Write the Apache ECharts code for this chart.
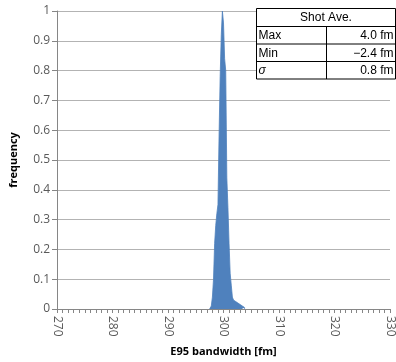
<!DOCTYPE html>
<html>
<head>
<meta charset="utf-8">
<script src="https://cdn.jsdelivr.net/npm/echarts@6/dist/echarts.min.js"></script>
<style>html,body{margin:0;padding:0;background:#fff}#c{width:396px;height:362px}</style>
</head>
<body>
<div id="c"></div>
<script>
// bin centres (fm) and normalised frequency
const binCenters = [297.5, 297.7, 297.9, 298.1, 298.3, 298.5, 298.7, 298.9, 299.1, 299.3, 299.5,
  299.7, 299.9, 300.1, 300.3, 300.5, 300.7, 300.9, 301.1, 301.3, 301.5,
  301.7, 301.9, 302.1, 302.3, 302.5, 302.7, 302.9, 303.1, 303.3, 303.5, 303.7, 303.9];
const frequency = [0, 0.005, 0.01, 0.04, 0.10, 0.22, 0.28, 0.32, 0.35, 0.58, 0.78,
  0.92, 1.00, 0.96, 0.84, 0.80, 0.44, 0.34, 0.22, 0.12, 0.08,
  0.04, 0.03, 0.025, 0.02, 0.02, 0.015, 0.015, 0.01, 0.01, 0.008, 0.005, 0];
const xTickLabels = [270, 280, 290, 300, 310, 320, 330];
const tableTitle = 'Shot Ave.';
const tableRows = ['Max', 'Min', 'σ'];
const tableValues = ['4.0 fm', '\u22122.4 fm', '0.8 fm'];

const chart = echarts.init(document.getElementById('c'), null, {renderer: 'canvas'});
const labelFont = "'Open Sans', 'Noto Sans', sans-serif";

const tLeft = 256.5, tRight = 395.5, tTop = 8.5, hdrH = 18, rowH = 17.5, colX = 326.5;
const g = [];
const tBottom = tTop + hdrH + rowH * tableRows.length;
g.push({type: 'rect', shape: {x: tLeft, y: tTop, width: tRight - tLeft, height: tBottom - tTop},
  style: {fill: '#fff', stroke: '#000', lineWidth: 1}, z: 100});
g.push({type: 'text', x: (tLeft + tRight) / 2, y: tTop + hdrH / 2 + 0.5,
  style: {text: tableTitle, fill: '#000', font: "12px 'Liberation Sans', sans-serif", align: 'center', verticalAlign: 'middle'}, z: 101});
tableRows.forEach((r, i) => {
  const y0 = tTop + hdrH + rowH * i;
  g.push({type: 'line', shape: {x1: tLeft, y1: y0, x2: tRight, y2: y0}, style: {stroke: '#000', lineWidth: 1}, z: 101});
  g.push({type: 'line', shape: {x1: colX, y1: y0, x2: colX, y2: y0 + rowH}, style: {stroke: '#000', lineWidth: 1}, z: 101});
  g.push({type: 'text', x: tLeft + 2, y: y0 + rowH / 2 + 0.5,
    style: {text: r, fill: '#000', font: (r === 'σ' ? 'italic ' : '') + "12px 'Liberation Sans', sans-serif", align: 'left', verticalAlign: 'middle'}, z: 101});
  g.push({type: 'text', x: tRight - 2, y: y0 + rowH / 2 + 0.5,
    style: {text: tableValues[i], fill: '#000', font: "12px 'Liberation Sans', sans-serif", align: 'right', verticalAlign: 'middle'}, z: 101});
});

chart.setOption({
  animation: false,
  grid: {left: 52, right: 3, top: 11, bottom: 50, containLabel: false},
  xAxis: {
    type: 'value', min: 270, max: 330, interval: 1,
    name: 'E95 bandwidth [fm]', nameLocation: 'middle', nameGap: 37,
    nameTextStyle: {fontFamily: labelFont, fontWeight: 'bold', fontSize: 11, color: '#000'},
    axisLine: {show: true, lineStyle: {color: '#868686', width: 1}},
    axisTick: {show: true, length: 4, lineStyle: {color: '#868686'}},
    splitLine: {show: false},
    axisLabel: {
      rotate: -90, margin: 7, fontFamily: labelFont, fontSize: 12, color: '#595959',
      formatter: v => xTickLabels.indexOf(v) >= 0 ? String(v) : ''
    }
  },
  yAxis: {
    type: 'value', min: 0, max: 1, interval: 0.1,
    name: 'frequency', nameLocation: 'middle', nameGap: 38,
    nameTextStyle: {fontFamily: labelFont, fontWeight: 'bold', fontSize: 11, color: '#000'},
    axisLine: {show: true, lineStyle: {color: '#868686', width: 1}},
    axisTick: {show: true, length: 5, lineStyle: {color: '#868686'}},
    splitLine: {show: true, lineStyle: {color: '#b3b3b3', width: 1}},
    axisLabel: {margin: 7, fontFamily: labelFont, fontSize: 12, color: '#595959',
      formatter: v => String(Math.round(v * 10) / 10)}
  },
  series: [{
    type: 'line', step: 'middle', showSymbol: false, symbol: 'none',
    lineStyle: {color: '#4F81BD', width: 0.8},
    areaStyle: {color: '#4F81BD', opacity: 1},
    itemStyle: {color: '#4F81BD'},
    data: binCenters.map((x, i) => [x, frequency[i]])
  }],
  graphic: g
});
</script>
</body>
</html>
